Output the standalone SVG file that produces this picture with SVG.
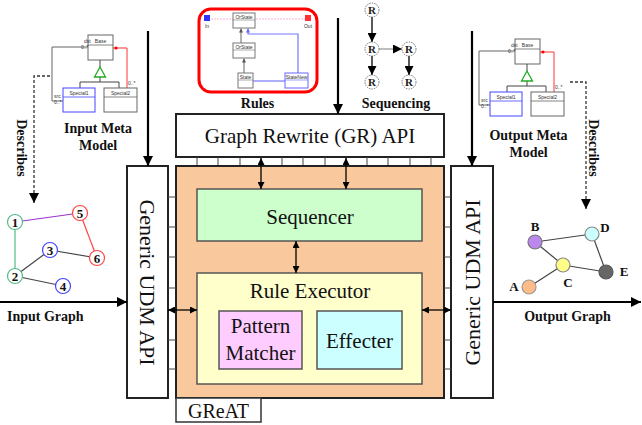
<svg xmlns="http://www.w3.org/2000/svg" xmlns:xlink="http://www.w3.org/1999/xlink" width="642" height="425" viewBox="0 0 642 425">
  <style>
    .serif { font-family: "Liberation Serif", "Times New Roman", serif; fill: #111; }
    .big { font-size: 21px; }
    .caption { font-size: 14px; font-weight: bold; }
    .tiny { font-family: "Liberation Sans", Arial, sans-serif; font-size: 5px; fill: #333; }
    .box { stroke: #222; stroke-width: 2; }
    .inner { stroke: #555; stroke-width: 1.5; }
    .thick { stroke: #000; stroke-width: 2.2; fill: none; }
    .thin { stroke: #000; stroke-width: 1.3; fill: none; }
    .tick { stroke: #444; stroke-width: 1; }
    .dash { stroke: #333; stroke-width: 1.3; stroke-dasharray: 3 2; fill: none; }
    .uml { fill: #fff; stroke-width: 1; }
    .gnode { stroke-width: 1.2; }
    .glabel { font-family: "Liberation Serif", "Times New Roman", serif; font-size: 13px; font-weight: bold; fill: #111; }
    .rnode { fill: #fff; stroke: #777; stroke-width: 1; stroke-dasharray: 1.5 1; }
    .rtext { font-family: "Liberation Serif", "Times New Roman", serif; font-size: 11px; font-weight: bold; fill: #222; }
  </style>
  <defs>
    <marker id="head" viewBox="0 0 10 10" refX="10" refY="5" markerWidth="10" markerHeight="10" markerUnits="userSpaceOnUse" orient="auto-start-reverse">
      <path d="M0,0 L10,5 L0,10 z" fill="#000"/>
    </marker>
    <marker id="head-s" viewBox="0 0 10 10" refX="10" refY="5" markerWidth="7" markerHeight="7" markerUnits="userSpaceOnUse" orient="auto-start-reverse">
      <path d="M0,0 L10,5 L0,10 z" fill="#000"/>
    </marker>
    <marker id="head-r" viewBox="0 0 10 10" refX="10" refY="5" markerWidth="9" markerHeight="9" markerUnits="userSpaceOnUse" orient="auto">
      <path d="M0,0 L10,5 L0,10 z" fill="#000"/>
    </marker>
    <marker id="head-u" viewBox="0 0 10 10" refX="10" refY="5" markerWidth="4" markerHeight="4" markerUnits="userSpaceOnUse" orient="auto">
      <path d="M0,0 L10,5 L0,10 z" fill="#555"/>
    </marker>
    <marker id="head-ub" viewBox="0 0 10 10" refX="10" refY="5" markerWidth="4" markerHeight="4" markerUnits="userSpaceOnUse" orient="auto">
      <path d="M0,0 L10,5 L0,10 z" fill="#66f"/>
    </marker>
    <!-- UML class diagram shared by both meta models -->
    <g id="meta-model-shape">
      <path d="M88,47 H52 V101 H63" fill="none" stroke="#666" stroke-width="1"/>
      <path d="M113,48 H127 V88" fill="none" stroke="#f33" stroke-width="1"/>
      <circle cx="116" cy="48" r="1.6" fill="#f00"/>
      <rect class="uml" x="88" y="35" width="25" height="25" stroke="#666"/>
      <line x1="88" y1="45" x2="113" y2="45" stroke="#666" stroke-width="0.8"/>
      <text class="tiny" x="100.5" y="42.5" text-anchor="middle">Base</text>
      <line x1="100" y1="60" x2="100" y2="67" stroke="#444" stroke-width="1"/>
      <path d="M100,77 V82 M80,88 V82 H119 V88" fill="none" stroke="#444" stroke-width="1"/>
      <polygon points="100,67 94.5,77 105.5,77" fill="#fff" stroke="#2a2" stroke-width="1.3"/>
      <rect class="uml" x="63" y="88" width="32" height="24" stroke="#44f"/>
      <line x1="63" y1="97" x2="95" y2="97" stroke="#44f" stroke-width="0.8"/>
      <text class="tiny" x="79" y="94.5" text-anchor="middle">Special1</text>
      <rect class="uml" x="104" y="88" width="33" height="24" stroke="#666"/>
      <line x1="104" y1="97" x2="137" y2="97" stroke="#666" stroke-width="0.8"/>
      <text class="tiny" x="120.5" y="94.5" text-anchor="middle">Special2</text>
      <text class="tiny" x="84" y="43">dst</text>
      <text class="tiny" x="81" y="49">0..*</text>
      <text class="tiny" x="54" y="98">src</text>
      <text class="tiny" x="54" y="104">0..*</text>
      <text class="tiny" x="128" y="85">0..*</text>
    </g>
  </defs>

  <rect x="0" y="0" width="642" height="425" fill="#fff"/>

  <!-- Graph Rewrite API -->
  <g id="gr-api">
    <rect class="box" x="176" y="114" width="268" height="43" fill="#fff"/>
    <text class="serif big" x="310" y="143" text-anchor="middle">Graph Rewrite (GR) API</text>
    <g class="tick">
      <line x1="197" y1="157" x2="197" y2="166"/>
      <line x1="218" y1="157" x2="218" y2="166"/>
      <line x1="240" y1="157" x2="240" y2="166"/>
      <line x1="282" y1="157" x2="282" y2="166"/>
      <line x1="303" y1="157" x2="303" y2="166"/>
      <line x1="325" y1="157" x2="325" y2="166"/>
      <line x1="367" y1="157" x2="367" y2="166"/>
      <line x1="388" y1="157" x2="388" y2="166"/>
      <line x1="410" y1="157" x2="410" y2="166"/>
      <line x1="431" y1="157" x2="431" y2="166"/>
    </g>
  </g>

  <!-- GReAT engine -->
  <g id="engine">
    <rect class="box" x="176" y="166" width="268" height="232" fill="#f9c99d"/>
  </g>
  <g id="great-label">
    <rect x="176" y="398" width="85" height="24" fill="#fff" stroke="#333" stroke-width="1.5"/>
    <text class="serif" x="218.5" y="418" font-size="20" text-anchor="middle">GReAT</text>
  </g>

  <g id="sequencer">
    <rect class="inner" x="197" y="189" width="225" height="52" fill="#ccffcc"/>
    <text class="serif big" x="310" y="224" text-anchor="middle">Sequencer</text>
  </g>

  <g id="rule-executor">
    <rect class="inner" x="197" y="273" width="225" height="111" fill="#ffffcc"/>
    <text class="serif big" x="310" y="298" text-anchor="middle">Rule Executor</text>
  </g>

  <g id="pattern-matcher">
    <rect class="inner" x="219" y="311" width="83" height="58" fill="#ffccff"/>
    <text class="serif big" x="260.5" y="333" text-anchor="middle">Pattern</text>
    <text class="serif big" x="260.5" y="360" text-anchor="middle">Matcher</text>
  </g>

  <g id="effecter">
    <rect class="inner" x="317" y="311" width="85" height="58" fill="#ccffff"/>
    <text class="serif big" x="359.5" y="348" text-anchor="middle">Effecter</text>
  </g>

  <!-- UDM access layers -->
  <g id="udm-left">
    <rect class="box" x="127" y="166" width="41" height="232" fill="#fff"/>
    <text class="serif" font-size="22" text-anchor="middle" transform="translate(147.5,282.5) rotate(90)" x="0" y="7.5">Generic UDM API</text>
    <g class="tick">
      <line x1="168" y1="197" x2="176" y2="197"/>
      <line x1="168" y1="227" x2="176" y2="227"/>
      <line x1="168" y1="257" x2="176" y2="257"/>
      <line x1="168" y1="288" x2="176" y2="288"/>
      <line x1="168" y1="340" x2="176" y2="340"/>
      <line x1="168" y1="369" x2="176" y2="369"/>
    </g>
  </g>
  <g id="udm-right">
    <rect class="box" x="451" y="166" width="42" height="232" fill="#fff"/>
    <text class="serif" font-size="22" text-anchor="middle" transform="translate(472,282.5) rotate(-90)" x="0" y="7.5">Generic UDM API</text>
    <g class="tick">
      <line x1="444" y1="197" x2="451" y2="197"/>
      <line x1="444" y1="227" x2="451" y2="227"/>
      <line x1="444" y1="257" x2="451" y2="257"/>
      <line x1="444" y1="288" x2="451" y2="288"/>
      <line x1="444" y1="340" x2="451" y2="340"/>
      <line x1="444" y1="369" x2="451" y2="369"/>
    </g>
  </g>

  <!-- rewrite rule sample -->
  <g id="rules">
    <rect x="199" y="9" width="118" height="83" rx="12" ry="12" fill="#fff" stroke="#f00" stroke-width="3"/>
    <line x1="208" y1="19" x2="306" y2="19" stroke="#f9c" stroke-width="0.8" stroke-dasharray="2 1"/>
    <rect x="204" y="15" width="6" height="6" fill="#33f"/>
    <rect x="305" y="15" width="6" height="6" fill="#f33"/>
    <text class="tiny" x="207" y="28" text-anchor="middle">In</text>
    <text class="tiny" x="308" y="28" text-anchor="middle">Out</text>
    <path d="M298,73 V34 H248 V28.5" fill="none" stroke="#77f" stroke-width="1.2" marker-end="url(#head-ub)"/>
    <line x1="241" y1="43" x2="241" y2="28.5" stroke="#666" stroke-width="1" marker-end="url(#head-u)"/>
    <line x1="244" y1="73" x2="244" y2="58.5" stroke="#666" stroke-width="1" marker-end="url(#head-u)"/>
    <line x1="253" y1="81" x2="285" y2="81" stroke="#77f" stroke-width="1.2"/>
    <rect class="uml" x="233" y="13" width="22" height="15" stroke="#777"/>
    <line x1="233" y1="20" x2="255" y2="20" stroke="#777" stroke-width="0.6"/>
    <text class="tiny" x="244" y="18.5" text-anchor="middle" font-size="4">OrState</text>
    <rect class="uml" x="233" y="43" width="22" height="15" stroke="#777"/>
    <line x1="233" y1="50" x2="255" y2="50" stroke="#777" stroke-width="0.6"/>
    <text class="tiny" x="244" y="48.5" text-anchor="middle" font-size="4">OrState</text>
    <rect class="uml" x="238" y="73" width="15" height="15" stroke="#777"/>
    <line x1="238" y1="80" x2="253" y2="80" stroke="#777" stroke-width="0.6"/>
    <text class="tiny" x="245.5" y="78.5" text-anchor="middle" font-size="4">State</text>
    <rect class="uml" x="285" y="73" width="23" height="15" stroke="#66f"/>
    <line x1="285" y1="80" x2="308" y2="80" stroke="#66f" stroke-width="0.6"/>
    <text class="tiny" x="296.5" y="78.5" text-anchor="middle" font-size="4">StateNew</text>
    <text class="serif caption" x="257.5" y="108" text-anchor="middle">Rules</text>
  </g>

  <!-- rule sequencing sample -->
  <g id="sequencing">
    <g fill="none" stroke="#000" stroke-width="1.3">
      <line x1="372" y1="17" x2="372" y2="42" marker-end="url(#head-r)"/>
      <line x1="372" y1="56" x2="372" y2="75" marker-end="url(#head-r)"/>
      <line x1="409" y1="56" x2="409" y2="75" marker-end="url(#head-r)"/>
      <line x1="379" y1="49" x2="402" y2="49" stroke="#999" marker-end="url(#head-r)"/>
    </g>
    <circle class="rnode" cx="372" cy="10" r="7"/>
    <circle class="rnode" cx="372" cy="49" r="7"/>
    <circle class="rnode" cx="372" cy="82" r="7"/>
    <circle class="rnode" cx="409" cy="49" r="7"/>
    <circle class="rnode" cx="409" cy="82" r="7"/>
    <text class="rtext" x="372" y="14" text-anchor="middle">R</text>
    <text class="rtext" x="372" y="53" text-anchor="middle">R</text>
    <text class="rtext" x="372" y="86" text-anchor="middle">R</text>
    <text class="rtext" x="409" y="53" text-anchor="middle">R</text>
    <text class="rtext" x="409" y="86" text-anchor="middle">R</text>
    <text class="serif caption" x="396" y="108" text-anchor="middle">Sequencing</text>
  </g>

  <!-- meta models -->
  <g id="input-meta-model">
    <use xlink:href="#meta-model-shape"/>
    <text class="serif caption" x="98" y="133" text-anchor="middle">Input Meta</text>
    <text class="serif caption" x="98" y="150" text-anchor="middle">Model</text>
    <text class="serif caption" text-anchor="middle" transform="translate(22,148) rotate(90)" x="0" y="5">Describes</text>
  </g>
  <g id="output-meta-model">
    <use xlink:href="#meta-model-shape" transform="translate(427,4)"/>
    <text class="serif caption" x="528.5" y="140" text-anchor="middle">Output Meta</text>
    <text class="serif caption" x="528.5" y="157" text-anchor="middle">Model</text>
    <text class="serif caption" text-anchor="middle" transform="translate(594,148) rotate(90)" x="0" y="5">Describes</text>
  </g>

  <!-- input graph -->
  <g id="input-graph">
    <line x1="15" y1="222" x2="80" y2="213" stroke="#93c" stroke-width="1.2"/>
    <line x1="80" y1="213" x2="97" y2="258" stroke="#f44" stroke-width="1.2"/>
    <line x1="15" y1="222" x2="15" y2="276" stroke="#5b8" stroke-width="1.2"/>
    <line x1="15" y1="276" x2="50" y2="250" stroke="#444" stroke-width="1.2"/>
    <line x1="50" y1="250" x2="97" y2="258" stroke="#444" stroke-width="1.2"/>
    <line x1="15" y1="276" x2="63" y2="286" stroke="#444" stroke-width="1.2"/>
    <circle class="gnode" cx="15" cy="222" r="7.5" fill="#fff" stroke="#5b8"/>
    <circle class="gnode" cx="15" cy="276" r="7.5" fill="#fff" stroke="#5b8"/>
    <circle class="gnode" cx="50" cy="250" r="7.5" fill="#fff" stroke="#44f"/>
    <circle class="gnode" cx="63" cy="286" r="7.5" fill="#fff" stroke="#44f"/>
    <circle class="gnode" cx="80" cy="213" r="7.5" fill="#fff" stroke="#f44"/>
    <circle class="gnode" cx="97" cy="258" r="7.5" fill="#fff" stroke="#f44"/>
    <text class="glabel" x="15" y="226.5" text-anchor="middle">1</text>
    <text class="glabel" x="15" y="280.5" text-anchor="middle">2</text>
    <text class="glabel" x="50" y="254.5" text-anchor="middle">3</text>
    <text class="glabel" x="63" y="290.5" text-anchor="middle">4</text>
    <text class="glabel" x="80" y="217.5" text-anchor="middle">5</text>
    <text class="glabel" x="97" y="262.5" text-anchor="middle">6</text>
    <text class="serif caption" x="7" y="321">Input Graph</text>
  </g>

  <!-- output graph -->
  <g id="output-graph">
    <g stroke="#444" stroke-width="1.2">
      <line x1="535" y1="242" x2="592" y2="234"/>
      <line x1="535" y1="242" x2="563" y2="265"/>
      <line x1="563" y1="265" x2="606" y2="272"/>
      <line x1="592" y1="234" x2="606" y2="272"/>
      <line x1="529" y1="287" x2="563" y2="265"/>
    </g>
    <circle class="gnode" cx="535" cy="242" r="7" fill="#bb88ee" stroke="#777"/>
    <circle class="gnode" cx="592" cy="234" r="7" fill="#ccffff" stroke="#888"/>
    <circle class="gnode" cx="563" cy="265" r="7" fill="#ffff88" stroke="#888"/>
    <circle class="gnode" cx="606" cy="272" r="7" fill="#666" stroke="#555"/>
    <circle class="gnode" cx="529" cy="287" r="7" fill="#ffbb88" stroke="#999"/>
    <text class="glabel" x="535" y="231" text-anchor="middle">B</text>
    <text class="glabel" x="605" y="232" text-anchor="middle">D</text>
    <text class="glabel" x="568" y="287" text-anchor="middle">C</text>
    <text class="glabel" x="624" y="276" text-anchor="middle">E</text>
    <text class="glabel" x="514" y="291" text-anchor="middle">A</text>
    <text class="serif caption" x="567.5" y="321" text-anchor="middle">Output Graph</text>
  </g>

  <!-- connectors, drawn last so both ends stay visible over the boxes -->
  <g id="connectors">
    <!-- feeds into the APIs -->
    <line class="thick" x1="148" y1="31" x2="148" y2="166" marker-end="url(#head)"/>
    <line class="thick" x1="472" y1="31" x2="472" y2="166" marker-end="url(#head)"/>
    <line class="thick" x1="338" y1="18" x2="338" y2="114" marker-end="url(#head)"/>
    <!-- graph in / graph out -->
    <line class="thick" x1="0" y1="302" x2="127" y2="302" marker-end="url(#head)"/>
    <line class="thick" x1="493" y1="302" x2="641" y2="302" marker-end="url(#head)"/>
    <!-- describes -->
    <path class="dash" d="M50,76 H34 V203" marker-end="url(#head)"/>
    <path class="dash" d="M570,82 H586 V209" marker-end="url(#head)"/>
    <!-- internal two-way links -->
    <line class="thin" x1="261" y1="158" x2="261" y2="189" marker-start="url(#head-s)" marker-end="url(#head-s)"/>
    <line class="thin" x1="346" y1="158" x2="346" y2="189" marker-start="url(#head-s)" marker-end="url(#head-s)"/>
    <line class="thin" x1="296" y1="241" x2="296" y2="273" marker-start="url(#head-s)" marker-end="url(#head-s)"/>
    <line class="thin" x1="168" y1="310" x2="197" y2="310" marker-start="url(#head-s)" marker-end="url(#head-s)"/>
    <line class="thin" x1="422" y1="310" x2="451" y2="310" marker-start="url(#head-s)" marker-end="url(#head-s)"/>
  </g>
</svg>
